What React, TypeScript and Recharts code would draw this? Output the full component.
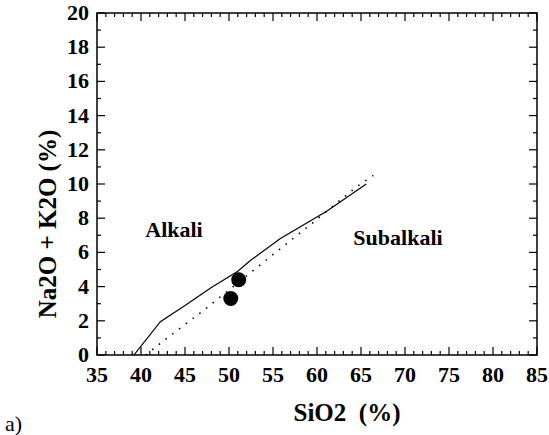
import React from "react";
import {
  ScatterChart,
  Scatter,
  XAxis,
  YAxis,
  ReferenceArea,
} from "recharts";

// Irvine & Baragar style boundary (solid) and second boundary (dotted)
const solidBoundary = [
  { x: 39.2, y: 0 },
  { x: 42.2, y: 1.95 },
  { x: 45, y: 2.9 },
  { x: 48, y: 3.95 },
  { x: 51, y: 4.9 },
  { x: 52.5, y: 5.55 },
  { x: 55.8, y: 6.8 },
  { x: 61.1, y: 8.4 },
  { x: 65.6, y: 10.0 },
];

const dottedBoundary = [
  { x: 40.5, y: 0 },
  { x: 43, y: 1.0 },
  { x: 46.7, y: 2.45 },
  { x: 50, y: 3.8 },
  { x: 54.7, y: 5.75 },
  { x: 59.2, y: 7.6 },
  { x: 64.5, y: 9.84 },
  { x: 66.4, y: 10.5 },
];

const samples = [
  { x: 50.2, y: 3.3 },
  { x: 51.1, y: 4.4 },
];

const xMajor = [35, 40, 45, 50, 55, 60, 65, 70, 75, 80, 85];
const yMajor = [0, 2, 4, 6, 8, 10, 12, 14, 16, 18, 20];

const xTicks: number[] = [];
for (let v = 35; v <= 85; v++) xTicks.push(v);
const yTicks: number[] = [];
for (let v = 0; v <= 20; v++) yTicks.push(v);

const W = 549;
const H = 435;
const PLOT_TOP = 13;
const PLOT_BOTTOM = 355;
const PLOT_LEFT = 97;
const PLOT_RIGHT = 537;
const serif = { fontFamily: "Times New Roman, Liberation Serif, serif" };

const XTick = (props: any) => {
  const { payload } = props;
  const cx = payload.coordinate;
  const major = xMajor.includes(payload.value);
  const len = major ? 8 : 4;
  return (
    <g>
      <line x1={cx} y1={PLOT_BOTTOM} x2={cx} y2={PLOT_BOTTOM - len} stroke="#000" strokeWidth={1.2} />
      <line x1={cx} y1={PLOT_TOP} x2={cx} y2={PLOT_TOP + len} stroke="#000" strokeWidth={1.2} />
      {major && (
        <text x={cx} y={382} textAnchor="middle" fontSize={22} fontWeight="bold" fill="#000" style={serif}>
          {payload.value}
        </text>
      )}
    </g>
  );
};

const YTick = (props: any) => {
  const { payload } = props;
  const cy = payload.coordinate;
  const major = yMajor.includes(payload.value);
  const len = major ? 8 : 4;
  return (
    <g>
      <line x1={PLOT_LEFT} y1={cy} x2={PLOT_LEFT + len} y2={cy} stroke="#000" strokeWidth={1.2} />
      <line x1={PLOT_RIGHT} y1={cy} x2={PLOT_RIGHT - len} y2={cy} stroke="#000" strokeWidth={1.2} />
      {major && (
        <text x={89} y={cy + 7} textAnchor="end" fontSize={22} fontWeight="bold" fill="#000" style={serif}>
          {payload.value}
        </text>
      )}
    </g>
  );
};

const Dot = (props: any) => <circle cx={props.cx} cy={props.cy} r={7.5} fill="#000" />;
const NoShape = () => <g />;

export default function App() {
  return (
    <div style={{ position: "absolute", left: 0, top: 0, width: W, height: H, background: "#fff", ...serif }}>
      <ScatterChart
        width={W}
        height={H}
        margin={{ top: PLOT_TOP, right: W - PLOT_RIGHT, left: 57, bottom: 50 }}
        style={serif}
      >
        <XAxis
          type="number"
          dataKey="x"
          domain={[35, 85]}
          ticks={xTicks}
          interval={0}
          tick={<XTick />}
          tickLine={false}
          axisLine={false}
          height={30}
          allowDataOverflow
        />
        <YAxis
          type="number"
          dataKey="y"
          domain={[0, 20]}
          ticks={yTicks}
          interval={0}
          tick={<YTick />}
          tickLine={false}
          axisLine={false}
          width={40}
          allowDataOverflow
        />
        <ReferenceArea x1={35} x2={85} y1={0} y2={20} fill="none" fillOpacity={0} stroke="#000" strokeWidth={1.5} />
        <Scatter data={solidBoundary} line={{ stroke: "#000", strokeWidth: 1.2 }} shape={<NoShape />} isAnimationActive={false} />
        <Scatter data={dottedBoundary} line={{ stroke: "#000", strokeWidth: 1.6, strokeDasharray: "1.5 7" }} shape={<NoShape />} isAnimationActive={false} />
        <Scatter data={samples} shape={<Dot />} isAnimationActive={false} />
        <text x={174} y={237} textAnchor="middle" fontSize={22} fontWeight="bold" fill="#000" style={serif}>
          Alkali
        </text>
        <text x={398} y={245} textAnchor="middle" fontSize={22} fontWeight="bold" fill="#000" style={serif}>
          Subalkali
        </text>
        <text x={347} y={421} textAnchor="middle" fontSize={25} fontWeight="bold" fill="#000" style={{ ...serif, whiteSpace: "pre" }}>
          {"SiO2  (%)"}
        </text>
        <text
          x={47}
          y={224}
          transform="rotate(-90 47 224)"
          textAnchor="middle"
          dominantBaseline="central"
          fontSize={25}
          fontWeight="bold"
          fill="#000"
          style={serif}
        >
          Na2O + K2O (%)
        </text>
        <text x={5} y={431} fontSize={22} fill="#000" style={serif}>
          a)
        </text>
      </ScatterChart>
    </div>
  );
}
